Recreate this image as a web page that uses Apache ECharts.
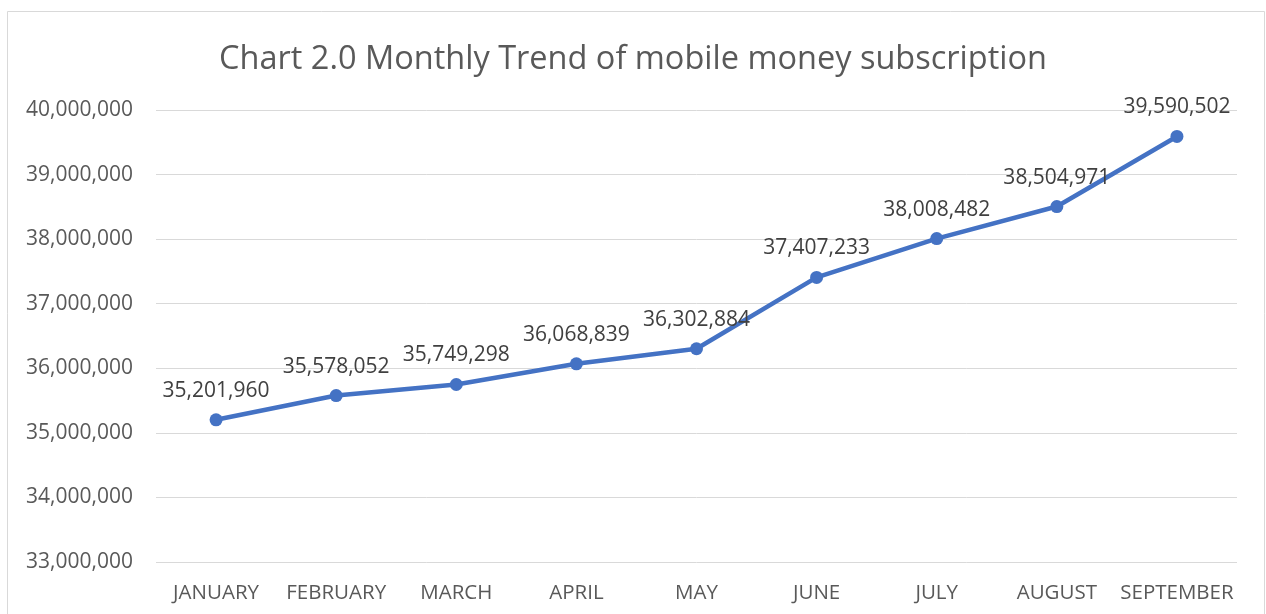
<!DOCTYPE html>
<html>
<head>
<meta charset="utf-8">
<script src="https://cdn.jsdelivr.net/npm/echarts@6/dist/echarts.min.js"></script>
<style>
  html, body { margin: 0; padding: 0; background: #fff; }
  #main { width: 1266px; height: 614px; }
</style>
</head>
<body>
<div id="main"></div>
<script>
var months = ['JANUARY', 'FEBRUARY', 'MARCH', 'APRIL', 'MAY', 'JUNE', 'JULY', 'AUGUST', 'SEPTEMBER'];
var subscriptions = [35201960, 35578052, 35749298, 36068839, 36302884, 37407233, 38008482, 38504971, 39590502];

var fmt = function (v) { return v.toLocaleString('en-US'); };

var chart = echarts.init(document.getElementById('main'));
var option = {
  backgroundColor: '#fff',
  animation: false,
  textStyle: { fontFamily: 'Open Sans' },
  title: {
    text: 'Chart 2.0 Monthly Trend of mobile money subscription',
    left: 'center',
    top: 38,
    textStyle: { fontFamily: 'Open Sans', fontSize: 32.5, fontWeight: 'normal', color: '#595959' }
  },
  graphic: [{
    type: 'rect',
    shape: { x: 7.5, y: 11.5, width: 1257, height: 620 },
    style: { fill: 'none', stroke: '#d9d9d9', lineWidth: 1 },
    silent: true
  }],
  grid: { left: 156, right: 29, top: 110, bottom: 52, containLabel: false },
  xAxis: {
    type: 'category',
    data: months,
    boundaryGap: true,
    axisLine: { show: false },
    axisTick: { show: false },
    axisLabel: { color: '#595959', fontSize: 20.5, margin: 21, interval: 0 }
  },
  yAxis: {
    type: 'value',
    min: 33000000,
    max: 40000000,
    interval: 1000000,
    axisLine: { show: false },
    axisTick: { show: false },
    axisLabel: { color: '#595959', fontSize: 21, margin: 23, formatter: fmt },
    splitLine: { lineStyle: { color: '#d9d9d9', width: 1 } }
  },
  series: [{
    type: 'line',
    data: subscriptions,
    symbol: 'circle',
    symbolSize: 13,
    itemStyle: { color: '#4472C4' },
    lineStyle: { color: '#4472C4', width: 4.5 },
    label: {
      show: true,
      position: 'top',
      distance: 12,
      color: '#404040',
      fontSize: 21,
      formatter: function (p) { return fmt(p.value); }
    }
  }]
};
chart.setOption(option);
</script>
</body>
</html>
